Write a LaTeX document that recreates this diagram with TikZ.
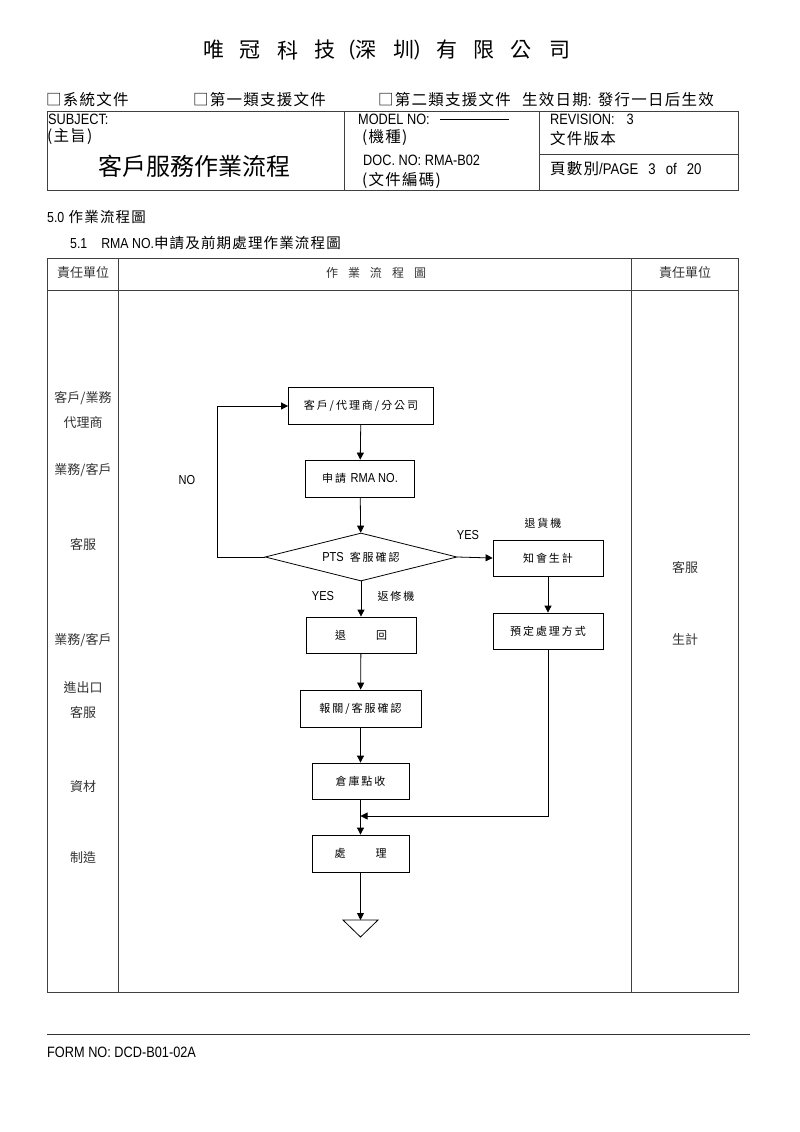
\documentclass[tikz,border=0pt]{standalone}
\usepackage{fontspec}
\setmainfont{Noto Sans CJK TC}
\newfontfamily\cjk{Noto Sans CJK TC}
\newfontfamily\cjkw[LetterSpace=8]{Noto Sans CJK TC}
\newfontfamily\lat[FakeStretch=0.85]{Liberation Sans}
\newfontfamily\fcf[LetterSpace=18]{Noto Sans CJK TC}
\newcommand\fl[1]{{\lat\fontsize{13}{15}\selectfont #1}}
\usetikzlibrary{arrows.meta,shapes.geometric}
\tikzset{
  tline/.style={draw=black!75, line width=0.9pt},
  fbox/.style={draw, line width=0.8pt, minimum height=37pt, inner sep=0pt, font=\fcf\fontsize{11}{13}\selectfont},
  conn/.style={line width=0.8pt, -{Triangle[length=7pt,width=7pt]}},
  lbl/.style={inner sep=0pt, font=\cjk\fontsize{13}{15}\selectfont, text=black!80},
  hdr/.style={inner sep=0pt, anchor=west, font=\cjkw\fontsize{15.5}{17}\selectfont},
  sec/.style={inner sep=0pt, anchor=west, font=\cjkw\fontsize{14.5}{16}\selectfont},
  ttlc/.style={inner sep=0pt, font=\cjk\fontsize{21}{24}\selectfont}
}
\begin{document}
\begin{tikzpicture}[x=1pt,y=-1pt]
\useasboundingbox[fill=white] (0,0) rectangle (800,1132);
% title
\foreach \xx/\cc [count=\i] in {214/唯,250/冠,288/科,325/技,366/深,404/圳,447/有,484/限,521/公,560/司}
  \node[ttlc] (t\i) at (\xx,50) {\cc};
\node[inner sep=0pt, font=\lat\fontsize{21}{24}\selectfont] (tp1) at (352,50) {(};
\node[inner sep=0pt, font=\lat\fontsize{21}{24}\selectfont] (tp2) at (417,50) {)};
% checkbox row
\node[hdr] (c1) at (46,100) {□系統文件};
\node[hdr] (c2) at (193,100) {□第一類支援文件};
\node[hdr] (c3) at (378,100) {□第二類支援文件};
\node[hdr] (c4) at (522,100) {生效日期{\lat:} 發行一日后生效};
% header table
\draw[tline] (47,111) rectangle (738,190);
\draw[tline] (344,111) -- (344,190);
\draw[tline] (539,111) -- (539,190);
\draw[tline] (539,154) -- (738,154);
\node[hdr, font=\lat\fontsize{15}{17}\selectfont] (subj) at (48,119) {SUBJECT:};
\node[hdr] (zhu) at (47,137) {(主旨)};
\node[inner sep=0pt, font=\cjk\fontsize{24}{27}\selectfont] (ttl2) at (194,166) {客戶服務作業流程};
\node[hdr, font=\lat\fontsize{15}{17}\selectfont] (model) at (358,119) {MODEL NO:};
\coordinate (ml1) at (440,119);
\coordinate (ml2) at (509,119);
\draw[line width=0.8pt] (ml1) -- (ml2);
\node[hdr] (jizhong) at (362,138) {(機種)};
\node[hdr, font=\lat\fontsize{15}{17}\selectfont] (doc) at (363,160) {DOC. NO: RMA-B02};
\node[hdr] (bianma) at (362,180) {(文件編碼)};
\node[hdr, font=\lat\fontsize{15}{17}\selectfont] (rev) at (550,119) {REVISION:\hspace{12pt}3};
\node[hdr] (banben) at (550,139) {文件版本};
\node[hdr] (page) at (550,169) {頁數別{\lat/PAGE\hspace{10pt}3\hspace{10pt}of\hspace{10pt}20}};
% section titles
\node[sec] (s50) at (47,217) {{\lat 5.0} 作業流程圖};
\node[sec] (s51) at (70,243) {{\lat 5.1\hspace{14pt}RMA NO.}申請及前期處理作業流程圖};
% main table
\draw[tline] (47,258) rectangle (738,992);
\draw[tline] (47,290) -- (738,290);
\draw[tline] (118,258) -- (118,992);
\draw[tline] (631,258) -- (631,992);
\node[lbl] (h1) at (83,273) {責任單位};
\node[lbl, font=\fcf\fontsize{12}{14}\selectfont] (h2) at (376,273) {作\hspace{10pt}業\hspace{10pt}流\hspace{10pt}程\hspace{10pt}圖};
\node[lbl] (h3) at (685,273) {責任單位};
% left labels
\node[lbl] (l1) at (83,398) {客戶/業務};
\node[lbl] (l2) at (83,423) {代理商};
\node[lbl] (l3) at (83,470) {業務/客戶};
\node[lbl] (l4) at (83,545) {客服};
\node[lbl] (l5) at (83,640) {業務/客戶};
\node[lbl] (l6) at (83,688) {進出口};
\node[lbl] (l7) at (83,712) {客服};
\node[lbl] (l8) at (83,787) {資材};
\node[lbl] (l9) at (83,858) {制造};
% right labels
\node[lbl] (r1) at (685,568) {客服};
\node[lbl] (r2) at (685,640) {生計};
% flowchart
\node[fbox, minimum width=145pt] (b1) at (361,406) {客戶/代理商/分公司};
\node[fbox, minimum width=109pt] (b2) at (360,478.5) {申請 \fl{RMA NO.}};
\node[draw, line width=0.8pt, diamond, aspect=4, minimum width=192pt, minimum height=48pt, inner sep=0pt, font=\fcf\fontsize{11}{13}\selectfont] (d) at (361,557) {\fl{PTS}\hspace{6pt}客服確認};
\node[fbox, minimum width=110pt, minimum height=36pt] (b3) at (548,558) {知會生計};
\node[fbox, minimum width=110pt, minimum height=36pt] (b4) at (548,631) {預定處理方式};
\node[fbox, minimum width=110pt, minimum height=36pt] (b5) at (361,635) {退\hspace{30pt}回};
\node[fbox, minimum width=121pt] (b6) at (360.5,708.5) {報關/客服確認};
\node[fbox, minimum width=97pt, minimum height=36pt] (b7) at (360.5,781) {倉庫點收};
\node[fbox, minimum width=97pt] (b8) at (360.5,853.5) {處\hspace{30pt}理};
\coordinate (nl) at (217,557);
\coordinate (mg) at (360.5,816);
\coordinate (tri) at (360.5,920);
\coordinate (tl) at (343,920);
\coordinate (tr) at (378,920);
\coordinate (tb) at (360.5,937);
\draw[line width=0.8pt] (tl) -- (tr) -- (tb) -- cycle;
% connectors
\draw[conn] (b1) -- (b2);
\draw[conn] (b2) -- (d);
\draw[conn] (d.west) -- (nl) |- (b1.west);
\draw[conn] (d.east) -- (b3.west);
\draw[conn] (b3) -- (b4);
\draw[conn] (d.south) -- (b5.north);
\draw[conn] (b5) -- (b6);
\draw[conn] (b6) -- (b7);
\draw[conn] (b7) -- (b8);
\draw[conn] (b4.south) |- (mg);
\draw[conn] (b8.south) -- (tri);
% connector labels
\node[inner sep=0pt, font=\lat\fontsize{13}{15}\selectfont] (no) at (187,480) {NO};
\node[inner sep=0pt, font=\lat\fontsize{13}{15}\selectfont] (yes1) at (468,535) {YES};
\node[inner sep=0pt, font=\fcf\fontsize{11}{13}\selectfont] (thj) at (543,523) {退貨機};
\node[inner sep=0pt, font=\lat\fontsize{13}{15}\selectfont] (yes2) at (323,596) {YES};
\node[inner sep=0pt, font=\fcf\fontsize{11}{13}\selectfont] (fxj) at (396,596) {返修機};
% footer
\coordinate (f1) at (47,1034);
\coordinate (f2) at (750,1034);
\draw[line width=1pt, black!80] (f1) -- (f2);
\node[hdr, font=\lat\fontsize{15}{17}\selectfont] (form) at (47,1052) {FORM NO: DCD-B01-02A};
\end{tikzpicture}
\end{document}
